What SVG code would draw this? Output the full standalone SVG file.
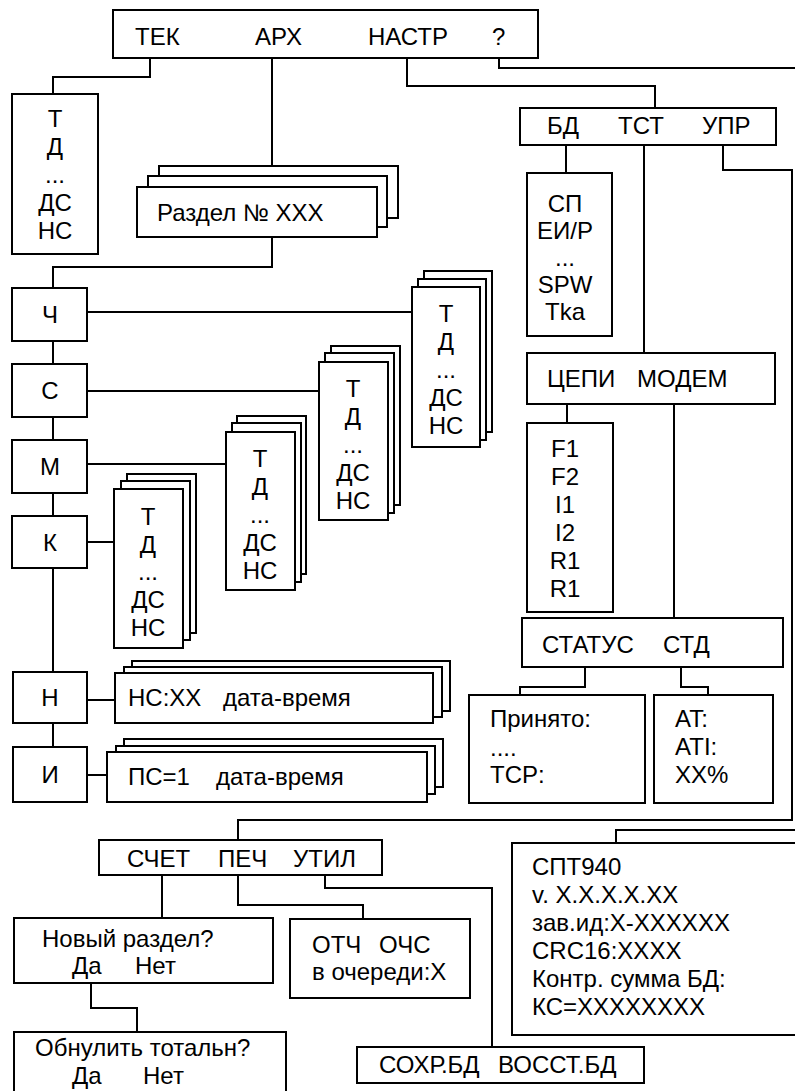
<svg xmlns="http://www.w3.org/2000/svg" width="795" height="1091" viewBox="0 0 795 1091">
<style>
.b{fill:#fff;stroke:#000;stroke-width:2}
.c{fill:none;stroke:#000;stroke-width:2}
text{font-family:"Liberation Sans",Arial,sans-serif;font-size:24px;fill:#000}
.m{text-anchor:middle}
</style>
<rect width="795" height="1091" fill="#fff"/>
<g id="connectors" class="c">
<path d="M150,58V77H53V94"/>
<path d="M272,58V166"/>
<path d="M407,58V86H655V108"/>
<path d="M499,58V68H795"/>
<path d="M272,237V267H53V288"/>
<path d="M53,341V364M53,417V440M53,493V516M53,568V672M53,723V747"/>
<path d="M87,312H412M87,391H319M87,464H226M87,542H114M87,700H115M87,775H107"/>
<path d="M566,145V173"/>
<path d="M644,145V353"/>
<path d="M723,145V170H792V820H238V840"/>
<path d="M567,404V423"/>
<path d="M674,404V618"/>
<path d="M585,667V687H520V695"/>
<path d="M681,667V687H708V695"/>
<path d="M616,843V830H795"/>
<path d="M162,875V918"/>
<path d="M238,875V905H363V919"/>
<path d="M325,875V888H492V1047"/>
<path d="M91,983V1008H137V1032"/>
</g>
<g id="menu">
<rect class="b" x="113" y="10" width="425" height="48"/>
<text x="135" y="45">ТЕК</text><text x="255" y="45">АРХ</text><text x="368" y="45">НАСТР</text><text x="492" y="45">?</text>
</g>
<g id="tek">
<rect class="b" x="12" y="94" width="86" height="160"/>
<text class="m" x="55" y="127">Т</text><text class="m" x="55" y="155">Д</text><text class="m" x="55" y="183">...</text><text class="m" x="55" y="211">ДС</text><text class="m" x="55" y="239">НС</text>
</g>
<g id="razdel">
<rect class="b" x="159" y="166" width="239" height="52"/>
<rect class="b" x="148" y="176" width="239" height="51"/>
<rect class="b" x="137" y="187" width="240" height="50"/>
<text x="157" y="221">Раздел № XXX</text>
</g>
<g id="ch"><rect class="b" x="12" y="288" width="75" height="53"/><text class="m" x="50" y="323">Ч</text></g>
<g id="s"><rect class="b" x="12" y="364" width="75" height="53"/><text class="m" x="50" y="399">С</text></g>
<g id="mm"><rect class="b" x="12" y="440" width="75" height="53"/><text class="m" x="50" y="475">М</text></g>
<g id="k"><rect class="b" x="12" y="516" width="75" height="52"/><text class="m" x="50" y="551">К</text></g>
<g id="n"><rect class="b" x="13" y="672" width="74" height="51"/><text class="m" x="50" y="706">Н</text></g>
<g id="i"><rect class="b" x="13" y="747" width="74" height="55"/><text class="m" x="50" y="783">И</text></g>
<g id="ch-stack">
<rect class="b" x="424" y="271" width="68" height="161"/>
<rect class="b" x="418" y="279" width="68" height="161"/>
<rect class="b" x="412" y="287" width="68" height="160"/>
<text class="m" x="446" y="322">Т</text><text class="m" x="446" y="350">Д</text><text class="m" x="446" y="378">...</text><text class="m" x="446" y="406">ДС</text><text class="m" x="446" y="434">НС</text>
</g>
<g id="s-stack">
<rect class="b" x="331" y="346" width="69" height="159"/>
<rect class="b" x="325" y="353" width="69" height="160"/>
<rect class="b" x="319" y="362" width="69" height="158"/>
<text class="m" x="353" y="397">Т</text><text class="m" x="353" y="425">Д</text><text class="m" x="353" y="453">...</text><text class="m" x="353" y="481">ДС</text><text class="m" x="353" y="509">НС</text>
</g>
<g id="m-stack">
<rect class="b" x="237" y="416" width="69" height="158"/>
<rect class="b" x="232" y="423" width="69" height="159"/>
<rect class="b" x="226" y="432" width="69" height="158"/>
<text class="m" x="260" y="467">Т</text><text class="m" x="260" y="495">Д</text><text class="m" x="260" y="523">...</text><text class="m" x="260" y="551">ДС</text><text class="m" x="260" y="579">НС</text>
</g>
<g id="k-stack">
<rect class="b" x="127" y="474" width="69" height="159"/>
<rect class="b" x="121" y="481" width="69" height="159"/>
<rect class="b" x="114" y="489" width="69" height="159"/>
<text class="m" x="148" y="525">Т</text><text class="m" x="148" y="553">Д</text><text class="m" x="148" y="580">...</text><text class="m" x="148" y="608">ДС</text><text class="m" x="148" y="636">НС</text>
</g>
<g id="n-stack">
<rect class="b" x="132" y="661" width="318" height="50"/>
<rect class="b" x="124" y="667" width="318" height="50"/>
<rect class="b" x="115" y="673" width="318" height="50"/>
<text x="128" y="706">НС:XX</text><text x="223" y="706">дата-время</text>
</g>
<g id="i-stack">
<rect class="b" x="124" y="739" width="319" height="48"/>
<rect class="b" x="116" y="746" width="319" height="48"/>
<rect class="b" x="107" y="752" width="320" height="50"/>
<text x="128" y="785">ПС=1</text><text x="216" y="785">дата-время</text>
</g>
<g id="nastr">
<rect class="b" x="520" y="108" width="256" height="37"/>
<text x="547" y="134">БД</text><text x="618" y="134">ТСТ</text><text x="702" y="134">УПР</text>
</g>
<g id="bd">
<rect class="b" x="527" y="173" width="85" height="163"/>
<text class="m" x="565" y="212">СП</text><text class="m" x="565" y="239">ЕИ/Р</text><text class="m" x="565" y="266">...</text><text class="m" x="565" y="293">SPW</text><text class="m" x="565" y="320">Tka</text>
</g>
<g id="tst">
<rect class="b" x="527" y="353" width="248" height="51"/>
<text x="547" y="387">ЦЕПИ</text><text x="637" y="387">МОДЕМ</text>
</g>
<g id="cepi">
<rect class="b" x="527" y="423" width="86" height="189"/>
<text class="m" x="565" y="457">F1</text><text class="m" x="565" y="485">F2</text><text class="m" x="565" y="513">I1</text><text class="m" x="565" y="541">I2</text><text class="m" x="565" y="569">R1</text><text class="m" x="565" y="597">R1</text>
</g>
<g id="modem">
<rect class="b" x="522" y="618" width="261" height="49"/>
<text x="542" y="653">СТАТУС</text><text x="663" y="653">СТД</text>
</g>
<g id="status">
<rect class="b" x="469" y="695" width="176" height="108"/>
<text x="490" y="727">Принято:</text><text x="490" y="756">....</text><text x="490" y="783">TCP:</text>
</g>
<g id="std">
<rect class="b" x="654" y="695" width="119" height="108"/>
<text x="675" y="727">AT:</text><text x="675" y="755">ATI:</text><text x="675" y="783">XX%</text>
</g>
<g id="upr">
<rect class="b" x="99" y="840" width="283" height="35"/>
<text x="127" y="867">СЧЕТ</text><text x="218" y="867">ПЕЧ</text><text x="293" y="867">УТИЛ</text>
</g>
<g id="schet">
<rect class="b" x="14" y="918" width="259" height="65"/>
<text x="42" y="947">Новый раздел?</text><text x="72" y="974">Да</text><text x="135" y="974">Нет</text>
</g>
<g id="obnul">
<rect class="b" x="14" y="1032" width="272" height="70"/>
<text x="35" y="1056">Обнулить тотальн?</text><text x="72" y="1084">Да</text><text x="143" y="1084">Нет</text>
</g>
<g id="pech">
<rect class="b" x="290" y="919" width="180" height="79"/>
<text x="312" y="953">ОТЧ</text><text x="379" y="953">ОЧС</text><text x="312" y="980">в очереди:X</text>
</g>
<g id="util">
<rect class="b" x="357" y="1047" width="287" height="36"/>
<text x="379" y="1073">СОХР.БД</text><text x="498" y="1073">ВОССТ.БД</text>
</g>
<g id="info">
<rect class="b" x="512" y="843" width="300" height="192"/>
<text x="532" y="875">СПТ940</text><text x="532" y="903">v. X.X.X.X.XX</text><text x="532" y="931">зав.ид:X-XXXXXX</text><text x="532" y="959">CRC16:XXXX</text><text x="532" y="987">Контр. сумма БД:</text><text x="532" y="1015">КС=XXXXXXXX</text>
</g>
</svg>
